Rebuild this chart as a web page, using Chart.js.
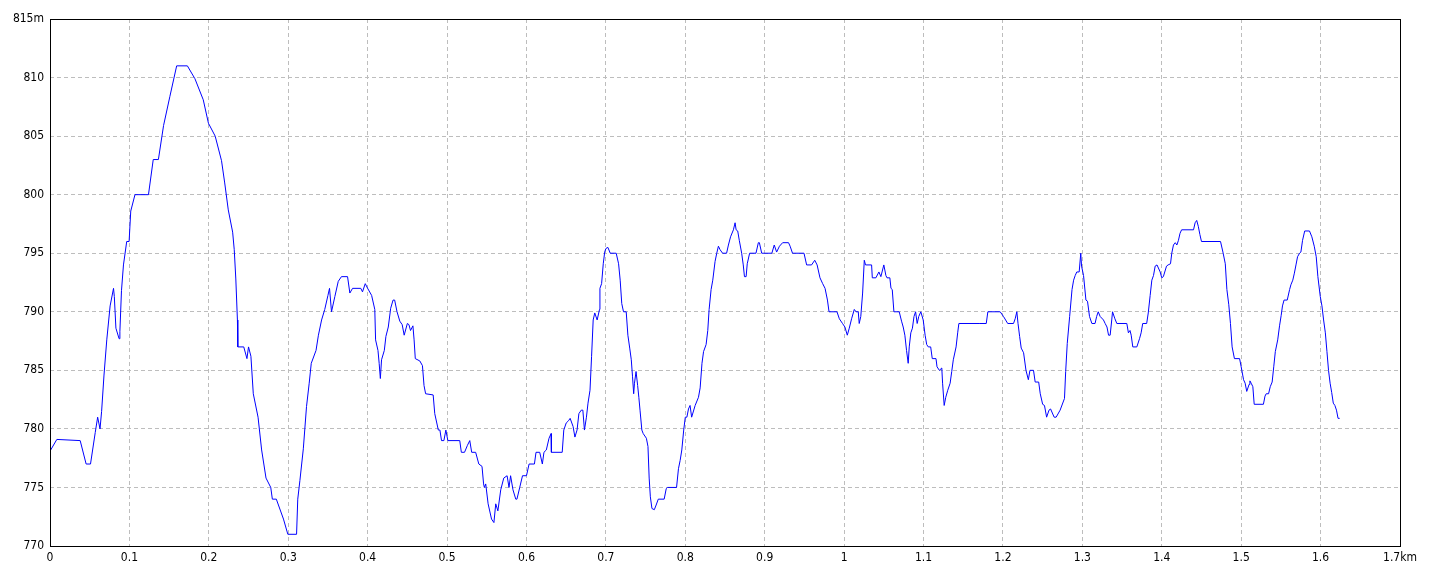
<!DOCTYPE html>
<html>
<head>
<meta charset="utf-8">
<script src="https://cdn.jsdelivr.net/npm/chart.js@4/dist/chart.umd.min.js"></script>
<style>
    body { margin: 0; background: #fff; }
    #caja { width: 1440px; height: 576px; }
</style>
</head>
<body>
<div id="caja"><canvas id="perfil"></canvas></div>
<script>
const distKm = [
    0, 0.0086, 0.038, 0.0455, 0.051, 0.057, 0.060, 0.063, 0.065, 0.068, 0.0715, 0.0757, 0.080, 0.081, 0.083, 0.087, 0.088, 0.090, 0.0925, 0.0966,
    0.0996, 0.1017, 0.107, 0.124, 0.130, 0.1365, 0.143, 0.151, 0.1595, 0.173, 0.1825, 0.193, 0.1995, 0.208, 0.216, 0.220, 0.2245, 0.230, 0.232, 0.234,
    0.236, 0.2365, 0.244, 0.248, 0.250, 0.253, 0.256, 0.262, 0.2665, 0.272, 0.278, 0.280, 0.285, 0.294, 0.2995, 0.3105, 0.312, 0.3147, 0.319, 0.323,
    0.3264, 0.329, 0.335, 0.338, 0.342, 0.346, 0.350, 0.352, 0.3545, 0.3587, 0.363, 0.367, 0.3747, 0.3776, 0.381, 0.3914, 0.3935, 0.397, 0.400, 0.405,
    0.409, 0.410, 0.413, 0.4145, 0.416, 0.4175, 0.421, 0.423, 0.426, 0.429, 0.432, 0.434, 0.437, 0.4405, 0.4435, 0.446, 0.450, 0.452, 0.454, 0.457,
    0.4585, 0.460, 0.4657, 0.469, 0.471, 0.473, 0.4825, 0.4845, 0.489, 0.491, 0.493, 0.496, 0.4985, 0.501, 0.516, 0.518, 0.522, 0.5257, 0.5286, 0.531,
    0.536, 0.540, 0.544, 0.546, 0.547, 0.5487, 0.5517, 0.556, 0.559, 0.5613, 0.564, 0.5676, 0.5714, 0.5756, 0.578, 0.580, 0.583, 0.5865, 0.588, 0.5915,
    0.595, 0.600, 0.6033, 0.610, 0.612, 0.6167, 0.620, 0.622, 0.625, 0.6284, 0.631, 0.6314, 0.645, 0.647, 0.650, 0.653, 0.655, 0.6587, 0.661, 0.6637,
    0.666, 0.669, 0.671, 0.673, 0.6755, 0.6775, 0.680, 0.682, 0.684, 0.686, 0.689, 0.692, 0.6925, 0.6946, 0.6967, 0.6985, 0.7, 0.7025, 0.7055, 0.713,
    0.716, 0.718, 0.720, 0.7222, 0.7256, 0.7277, 0.730, 0.732, 0.7335, 0.735, 0.736, 0.738, 0.740, 0.7415, 0.743, 0.7453, 0.747, 0.751, 0.753, 0.7545,
    0.756, 0.758, 0.761, 0.7633, 0.766, 0.7734, 0.776, 0.7776, 0.789, 0.7914, 0.7935, 0.7956, 0.798, 0.800, 0.802, 0.804, 0.806, 0.808, 0.8124, 0.8166,
    0.8187, 0.821, 0.823, 0.8262, 0.8283, 0.830, 0.8325, 0.8346, 0.8375, 0.8396, 0.8417, 0.8438, 0.847, 0.852, 0.8543, 0.857, 0.8606, 0.8627, 0.864, 0.866,
    0.868, 0.871, 0.873, 0.8745, 0.8766, 0.878, 0.881, 0.889, 0.892, 0.8933, 0.8962, 0.909, 0.912, 0.915, 0.9186, 0.9226, 0.930, 0.932, 0.935, 0.9495,
    0.9528, 0.959, 0.963, 0.966, 0.9696, 0.973, 0.976, 0.979, 0.981, 0.991, 0.994, 0.998, 1.001, 1.004, 1.0065, 1.0094, 1.0128, 1.015, 1.0178, 1.019,
    1.021, 1.0233, 1.0254, 1.027, 1.0346, 1.0355, 1.040, 1.0438, 1.0463, 1.050, 1.0526, 1.054, 1.0576, 1.059, 1.0606, 1.0627, 1.0694, 1.0723, 1.0744, 1.0765,
    1.0786, 1.0807, 1.082, 1.084, 1.086, 1.088, 1.090, 1.092, 1.094, 1.0966, 1.0996, 1.102, 1.104, 1.106, 1.109, 1.111, 1.1157, 1.117, 1.120, 1.123,
    1.124, 1.126, 1.128, 1.1305, 1.1335, 1.1355, 1.1375, 1.141, 1.143, 1.1445, 1.171, 1.179, 1.181, 1.1965, 1.2007, 1.206, 1.2133, 1.2154, 1.2175, 1.219,
    1.221, 1.223, 1.226, 1.229, 1.232, 1.234, 1.2385, 1.2406, 1.245, 1.247, 1.250, 1.2523, 1.255, 1.258, 1.260, 1.2645, 1.267, 1.272, 1.2775, 1.279,
    1.281, 1.284, 1.287, 1.289, 1.291, 1.293, 1.296, 1.298, 1.299, 1.3015, 1.3045, 1.3065, 1.309, 1.312, 1.316, 1.318, 1.320, 1.3224, 1.3266, 1.3287,
    1.331, 1.333, 1.335, 1.337, 1.338, 1.341, 1.3434, 1.356, 1.358, 1.360, 1.3615, 1.3635, 1.3686, 1.372, 1.374, 1.376, 1.381, 1.383, 1.3854, 1.3875,
    1.3896, 1.3917, 1.394, 1.398, 1.400, 1.402, 1.406, 1.408, 1.411, 1.4126, 1.4147, 1.417, 1.419, 1.421, 1.423, 1.425, 1.440, 1.442, 1.444, 1.446,
    1.448, 1.450, 1.474, 1.477, 1.480, 1.482, 1.4844, 1.4865, 1.4886, 1.4915, 1.498, 1.500, 1.503, 1.505, 1.507, 1.510, 1.511, 1.5126, 1.5147, 1.5164,
    1.528, 1.530, 1.5315, 1.5345, 1.5366, 1.539, 1.541, 1.543, 1.546, 1.5483, 1.5504, 1.552, 1.554, 1.558, 1.561, 1.5626, 1.565, 1.567, 1.569, 1.571,
    1.5735, 1.5752, 1.5773, 1.580, 1.586, 1.589, 1.592, 1.5945, 1.5966, 1.5996, 1.6017, 1.6038, 1.606, 1.608, 1.610, 1.612, 1.614, 1.616, 1.618, 1.620,
    1.622, 1.624
]
const alturaM = [
    778.1, 779.1, 779, 777, 777, 779.7, 781, 780, 781.5, 784.6, 787.6, 790.5, 792, 791.3, 788.6, 787.7, 788.3, 791.8, 794, 796,
    796, 798.6, 800, 800, 803, 803, 805.9, 808.4, 811, 811, 809.9, 808.1, 806.1, 805, 802.9, 801, 798.7, 796.8, 795.3, 792.8,
    789.3, 787, 787, 786, 787, 786.2, 783, 781, 778.2, 775.8, 775, 774, 774, 772.3, 771, 771, 774, 775.6, 778.3, 781.9,
    783.9, 785.6, 786.7, 788, 789.3, 790.2, 791.4, 792, 790, 791.3, 792.6, 793, 793, 791.6, 792, 792, 791.7, 792.4, 792, 791.4,
    790.2, 787.6, 786.7, 785.6, 784.3, 785.9, 786.7, 787.9, 788.7, 790.3, 791, 791, 790, 789.2, 788.9, 788, 789, 788.9, 788.4, 788.8,
    787.6, 786, 785.8, 785.4, 783.7, 783, 782.9, 781.3, 779.9, 779.9, 779, 779, 779.9, 779, 779, 778, 778, 778.6, 779, 778,
    778, 777, 776.8, 775.3, 775, 775.3, 773.6, 772.3, 772, 773.6, 773, 774.8, 775.8, 776, 775, 776, 774.8, 774, 774, 775,
    776, 776, 777, 777, 778, 778, 777, 778, 778.2, 779.2, 779.6, 778, 778, 779.9, 780.5, 780.7, 780.9, 780.2, 779.3, 779.9,
    781.3, 781.6, 781.6, 779.9, 781, 782.2, 783.3, 786.2, 789.3, 789.9, 789.3, 790.2, 792, 792.4, 794.1, 795.1, 795.4, 795.5, 795, 795,
    794.1, 792.7, 790.7, 790, 790, 788, 786.9, 785.9, 784.5, 783, 783.9, 784.9, 783.7, 782.7, 781.6, 779.9, 779.6, 779.2, 778.5, 775.8,
    774.2, 773.2, 773.1, 773.5, 774, 774, 774.9, 775, 775, 776.6, 777.3, 778.2, 779.9, 781, 781, 781.7, 782, 781, 782, 782.7,
    783.5, 785.6, 786.6, 787.2, 788.4, 790.2, 791.9, 792.7, 794.3, 795, 795.6, 795.3, 795, 795, 795.7, 796.4, 797, 797.6, 797, 796.9,
    796.1, 795, 794, 793, 793, 794.1, 795, 795, 795.9, 795.9, 795, 795, 795.7, 795.1, 795.6, 795.9, 795.9, 795.6, 795, 795,
    794, 794, 794.4, 794, 792.9, 792.4, 792, 791, 790, 790, 789.4, 789, 788.7, 788, 788.6, 789.4, 790.2, 790, 790, 789,
    789.6, 791.6, 794.4, 794, 794, 792.9, 792.9, 793.4, 793, 794, 793.1, 792.9, 792.9, 792, 791.9, 790, 790, 789.2, 788.7, 788,
    786.7, 785.6, 787, 788.2, 788.6, 789.6, 790, 789, 789.6, 790, 789.3, 788, 787.2, 787, 787, 786, 786, 785.3, 785, 785.2,
    783.9, 782, 782.7, 783.3, 783.9, 784.9, 785.9, 787, 788.2, 789, 789, 789, 790, 790, 789.6, 789, 789, 789.4, 790, 789,
    787.9, 786.9, 786.5, 785, 784.2, 785, 785, 784, 784, 783, 782.1, 782, 781, 781.6, 781.7, 781, 781, 781.6, 782.6, 784.9,
    787.3, 789.6, 791.9, 792.7, 793.1, 793.4, 793.4, 795, 793.9, 793.1, 791, 790.9, 789.6, 789, 789, 789.6, 790, 789.6, 789.3, 789,
    788.7, 788, 788, 789.3, 790, 789.4, 789, 789, 788.2, 788.4, 788, 787, 787, 787.7, 788.2, 789, 789, 789.9, 791.4, 792.7,
    793.1, 793.9, 794, 793.4, 792.9, 793, 793.9, 794, 794.1, 795, 795.7, 795.9, 795.7, 796.1, 796.7, 797, 797, 797.6, 797.8, 797.3,
    796.6, 796, 796, 795.1, 794.1, 791.9, 790.6, 789, 787, 786, 786, 785.3, 784.2, 783.9, 783.2, 783.8, 784.1, 783.9, 783.6, 782.1,
    782.1, 782.8, 783, 783, 783.6, 784, 785.3, 786.6, 787.6, 788.8, 789.7, 790.5, 791, 791, 791.9, 792.3, 792.7, 793.3, 794, 794.7,
    795, 795.1, 796.1, 796.9, 796.9, 796.4, 795.6, 794.7, 793, 791.3, 790.5, 789.3, 788.2, 786.6, 785, 783.9, 783.1, 782.2, 782, 781.6,
    780.9, 780.9
]

// Ejes
const ejeX = { min: 0, max: 1.7, paso: 0.1, unidad: 'km' }
const ejeY = { min: 770, max: 815, paso: 5, unidad: 'm' }

const puntos = distKm.map((d, i) => ({ x: d, y: alturaM[i] }))

// Marco negro alrededor del area del grafico
const marco = {
    id: 'marco',
    afterDraw(chart) {
        const { ctx, chartArea: a } = chart
        ctx.save()
        ctx.strokeStyle = '#000'
        ctx.lineWidth = 1
        ctx.strokeRect(Math.round(a.left) + 0.5, Math.round(a.top) + 0.5, Math.round(a.right - a.left), Math.round(a.bottom - a.top))
        ctx.restore()
    }
}

const fuente = { family: "'Liberation Sans Narrow', 'DejaVu Sans Condensed', sans-serif", size: 12 }
const rejilla = { color: '#bdbdbd', lineWidth: 1, drawTicks: false }

const config = {
    type: 'line',
    data: {
        datasets: [{
            data: puntos,
            borderColor: '#0000ff',
            borderWidth: 1,
            pointRadius: 0,
            tension: 0,
            fill: false
        }]
    },
    options: {
        responsive: true,
        maintainAspectRatio: false,
        animation: false,
        devicePixelRatio: 1,
        layout: { padding: { top: 19, right: 40, left: 0, bottom: 0 } },
        plugins: { legend: { display: false }, tooltip: { enabled: false } },
        scales: {
            x: {
                type: 'linear',
                min: ejeX.min,
                max: ejeX.max,
                border: { display: false, dash: [4, 3] },
                grid: rejilla,
                afterFit: s => { s.height = 30 },
                ticks: {
                    stepSize: ejeX.paso,
                    color: '#000',
                    font: fuente,
                    padding: 5,
                    maxRotation: 0,
                    autoSkip: false,
                    callback: v => {
                        const r = Math.round(v * 10) / 10
                        return r === ejeX.max ? r + ejeX.unidad : String(r)
                    }
                }
            },
            y: {
                min: ejeY.min,
                max: ejeY.max,
                border: { display: false, dash: [4, 3] },
                grid: rejilla,
                afterFit: s => { s.width = 50 },
                ticks: {
                    stepSize: ejeY.paso,
                    color: '#000',
                    font: fuente,
                    padding: 6,
                    callback: v => v === ejeY.max ? v + ejeY.unidad : String(v)
                }
            }
        }
    },
    plugins: [marco]
}

new Chart(document.getElementById('perfil'), config)
</script>
</body>
</html>
